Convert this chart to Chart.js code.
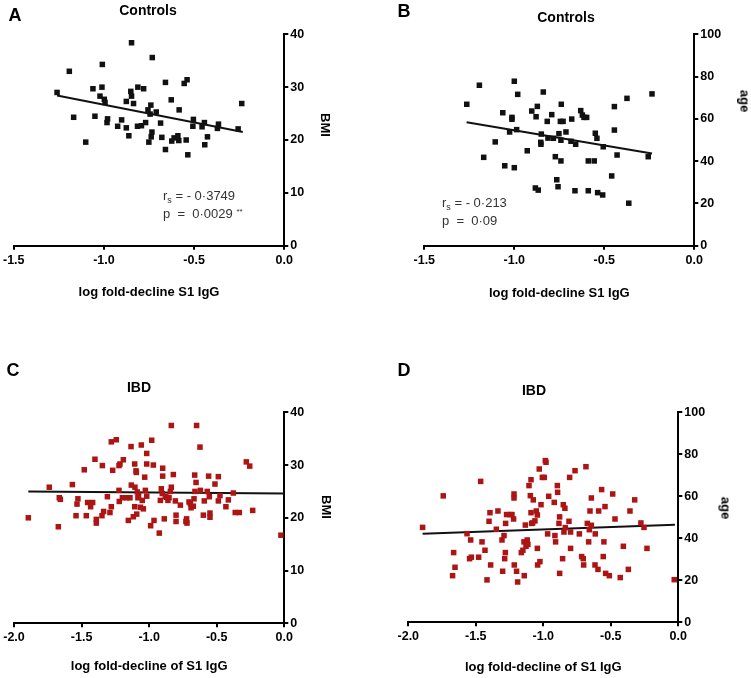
<!DOCTYPE html>
<html>
<head>
<meta charset="utf-8">
<script src="https://cdn.jsdelivr.net/npm/chart.js@4.4.1/dist/chart.umd.min.js"></script>
<style>
  body { margin: 0; background: #fff; }
  #fig { position: relative; width: 751px; height: 678px; background: #fff; overflow: hidden;
         font-family: "Liberation Sans", Arial, sans-serif; color: #000; }
  canvas { position: absolute; }
  .lbl { position: absolute; line-height: 1; white-space: nowrap; transform: translate(-50%, -50%); }
  .letter { font-size: 18px; font-weight: bold; }
  .title { font-size: 14px; font-weight: bold; }
  .ytitle { font-size: 13px; font-weight: bold; transform: translate(-50%, -50%) rotate(90deg); }
  .stat { position: absolute; font-size: 13px; color: #333; line-height: 1; white-space: pre; transform: translateY(-50%); }
  .stat sub { font-size: 9px; vertical-align: -3px; line-height: 0; }
  .stat sup { font-size: 8px; vertical-align: 4px; line-height: 0; }
</style>
</head>
<body>
<div id="fig">
  <canvas id="chartA" width="375" height="339" style="left:0;top:0"></canvas>
  <canvas id="chartB" width="371" height="339" style="left:380px;top:0"></canvas>
  <canvas id="chartC" width="375" height="339" style="left:0;top:339px"></canvas>
  <canvas id="chartD" width="371" height="339" style="left:380px;top:339px"></canvas>

  <div class="lbl letter" style="left:15px;top:15px">A</div>
  <div class="lbl letter" style="left:404px;top:11px">B</div>
  <div class="lbl letter" style="left:13px;top:370px">C</div>
  <div class="lbl letter" style="left:404px;top:370px">D</div>

  <div class="lbl title" style="left:148px;top:10px">Controls</div>
  <div class="lbl title" style="left:566px;top:17px">Controls</div>
  <div class="lbl title" style="left:139px;top:387px">IBD</div>
  <div class="lbl title" style="left:534px;top:390px">IBD</div>

  <div class="lbl ytitle" style="left:325px;top:125px">BMI</div>
  <div class="lbl ytitle" style="left:745px;top:101px">age</div>
  <div class="lbl ytitle" style="left:326px;top:507px">BMI</div>
  <div class="lbl ytitle" style="left:726px;top:508px">age</div>

  <div class="stat" style="left:163px;top:195px">r<sub>s</sub> = - 0·3749</div>
  <div class="stat" style="left:163px;top:213px">p  =  0·0029 <sup>**</sup></div>
  <div class="stat" style="left:442px;top:202px">r<sub>s</sub> = - 0·213</div>
  <div class="stat" style="left:442px;top:220px">p  =  0·09</div>
</div>

<script>
// Controls: log fold-decline S1 IgG vs BMI (panel A)
const ctrlFoldBmi = [-1.26, -1.192, -1.168, -1.101, -1.061, -1.05, -1.009, -1.011, -1.022, -0.998,
  -0.994, -0.98, -0.983, -0.924, -0.902, -0.876, -0.876, -0.862, -0.847, -0.851,
  -0.847, -0.836, -0.812, -0.78, -0.814, -0.792, -0.769, -0.756, -0.751, -0.74,
  -0.744, -0.732, -0.734, -0.738, -0.71, -0.686, -0.679, -0.659, -0.659, -0.627,
  -0.624, -0.611, -0.59, -0.585, -0.583, -0.555, -0.539, -0.544, -0.535, -0.504,
  -0.507, -0.456, -0.443, -0.441, -0.426, -0.365, -0.371, -0.256, -0.236];
const ctrlBmi = [29.0, 33.0, 24.3, 19.6, 29.7, 24.5, 34.3, 30.0, 28.3, 27.7,
  27.1, 24.0, 23.3, 22.6, 23.8, 27.3, 22.3, 20.8, 38.4, 29.2,
  28.3, 26.9, 30.0, 29.7, 22.6, 22.7, 23.3, 25.7, 19.6, 26.6,
  24.9, 35.6, 21.5, 20.6, 25.3, 23.2, 20.5, 30.9, 18.2, 27.6,
  19.8, 20.4, 20.8, 19.9, 25.7, 30.7, 31.4, 20.0, 17.2, 23.9,
  22.6, 22.5, 23.3, 19.1, 20.6, 23.0, 22.2, 22.1, 26.9];
const ctrlBmiFitX = [-1.26, -0.23];
const ctrlBmiFitY = [28.4, 21.5];

// Controls: log fold-decline S1 IgG vs age (panel B)
const ctrlFoldAge = [-1.264, -1.194, -1.170, -1.106, -1.064, -1.053, -1.013, -1.013, -1.000, -1.000,
  -0.981, -1.026, -0.987, -0.928, -0.903, -0.879, -0.872, -0.883, -0.867, -0.839,
  -0.850, -0.853, -0.852, -0.817, -0.813, -0.792, -0.783, -0.772, -0.764, -0.757,
  -0.752, -0.744, -0.739, -0.741, -0.741, -0.729, -0.713, -0.681, -0.685, -0.659,
  -0.663, -0.631, -0.622, -0.613, -0.598, -0.589, -0.589, -0.556, -0.550, -0.541,
  -0.537, -0.509, -0.506, -0.459, -0.444, -0.444, -0.429, -0.374, -0.364, -0.256,
  -0.235];
const ctrlAge = [66.9, 75.9, 41.8, 49.1, 62.9, 37.8, 60.7, 59.8, 77.8, 36.9,
  71.6, 53.8, 54.9, 44.9, 63.7, 61.0, 65.9, 27.3, 26.3, 72.7,
  52.8, 48.9, 48.0, 58.8, 50.9, 62.0, 50.8, 42.1, 31.2, 27.9,
  53.0, 58.8, 66.9, 40.1, 49.9, 58.8, 53.8, 59.9, 49.4, 48.0,
  26.0, 63.9, 61.8, 60.7, 60.7, 40.1, 26.0, 40.1, 53.2, 50.8,
  25.1, 24.0, 46.8, 33.0, 65.8, 54.7, 42.9, 69.7, 20.1, 42.1,
  71.8];
const ctrlAgeFitX = [-1.265, -0.235];
const ctrlAgeFitY = [58.4, 43.6];

// IBD: log fold-decline of S1 IgG vs BMI (panel C)
const ibdFoldBmi = [-1.894, -1.739, -1.672, -1.665, -1.657, -1.568, -1.541, -1.534, -1.527, -1.480,
  -1.465, -1.455, -1.433, -1.418, -1.401, -1.391, -1.391, -1.346, -1.349, -1.337,
  -1.309, -1.290, -1.280, -1.280, -1.270, -1.243, -1.223, -1.216, -1.223, -1.221,
  -1.198, -1.191, -1.166, -1.154, -1.142, -1.134, -1.132, -1.117, -1.107, -1.105,
  -1.097, -1.095, -1.107, -1.092, -1.088, -1.083, -1.078, -1.065, -1.058, -1.051,
  -1.043, -1.033, -1.028, -1.018, -1.018, -1.018, -0.981, -0.969, -0.989, -0.964,
  -0.925, -0.917, -0.910, -0.903, -0.900, -0.900, -0.888, -0.880, -0.871, -0.861,
  -0.853, -0.843, -0.836, -0.836, -0.821, -0.806, -0.801, -0.801, -0.769, -0.728,
  -0.723, -0.720, -0.705, -0.695, -0.690, -0.673, -0.668, -0.663, -0.661, -0.653,
  -0.649, -0.624, -0.621, -0.599, -0.592, -0.570, -0.560, -0.555, -0.550, -0.550,
  -0.513, -0.488, -0.488, -0.476, -0.432, -0.414, -0.377, -0.363, -0.333, -0.281,
  -0.256, -0.234, -0.025];
const ibdBmi = [20.0, 25.8, 18.3, 23.8, 23.5, 26.3, 20.4, 22.6, 23.6, 29.1,
  20.4, 22.9, 22.1, 22.9, 31.1, 19.7, 19.0, 29.9, 20.4, 21.2,
  24.0, 21.0, 22.1, 34.4, 29.0, 34.8, 29.9, 30.2, 25.2, 23.1,
  23.8, 31.0, 23.8, 19.5, 23.8, 33.5, 26.2, 20.2, 30.2, 25.8,
  28.9, 28.6, 22.1, 20.7, 24.9, 23.8, 24.3, 22.0, 33.8, 23.3,
  21.7, 27.7, 25.2, 32.2, 30.2, 24.1, 34.7, 30.0, 18.5, 19.5,
  17.1, 23.3, 25.5, 24.6, 29.4, 27.9, 19.8, 24.0, 23.9, 23.3,
  23.8, 25.0, 25.8, 37.5, 28.2, 23.2, 20.5, 19.3, 22.4, 19.3,
  19.8, 19.0, 23.0, 22.7, 21.9, 22.2, 23.6, 28.1, 25.0, 26.7,
  37.5, 33.4, 25.2, 20.5, 23.2, 25.0, 27.9, 24.0, 20.9, 20.1,
  26.4, 27.8, 23.2, 24.2, 22.1, 23.4, 24.7, 21.0, 21.0, 30.6,
  29.8, 21.4, 16.7];
const ibdBmiFitX = [-1.894, 0];
const ibdBmiFitY = [25.0, 24.6];

// IBD: log fold-decline of S1 IgG vs age (panel D)
const ibdFoldAge = [-1.894, -1.741, -1.664, -1.654, -1.672, -1.565, -1.538, -1.546, -1.533, -1.479,
  -1.464, -1.454, -1.432, -1.417, -1.402, -1.395, -1.390, -1.348, -1.336, -1.306,
  -1.301, -1.291, -1.286, -1.281, -1.279, -1.272, -1.247, -1.232, -1.220, -1.217,
  -1.217, -1.215, -1.198, -1.190, -1.163, -1.151, -1.141, -1.143, -1.133, -1.128,
  -1.119, -1.114, -1.106, -1.096, -1.091, -1.091, -1.086, -1.079, -1.074, -1.062,
  -1.052, -1.044, -1.044, -1.042, -1.030, -1.025, -1.017, -1.007, -0.993, -0.985,
  -0.980, -0.968, -0.960, -0.919, -0.914, -0.909, -0.896, -0.894, -0.884, -0.879,
  -0.879, -0.857, -0.852, -0.840, -0.847, -0.837, -0.805, -0.810, -0.798, -0.798,
  -0.765, -0.733, -0.716, -0.704, -0.701, -0.684, -0.674, -0.664, -0.659, -0.654,
  -0.644, -0.644, -0.617, -0.615, -0.595, -0.590, -0.568, -0.556, -0.551, -0.543,
  -0.538, -0.511, -0.486, -0.469, -0.430, -0.407, -0.370, -0.358, -0.323, -0.277,
  -0.254, -0.232, -0.030];
const ibdAge = [45.2, 60.2, 33.2, 26.2, 22.2, 42.2, 39.2, 30.3, 31.0, 31.0,
  67.1, 38.3, 34.3, 20.2, 48.1, 52.2, 27.3, 44.3, 53.0, 39.2,
  24.3, 41.3, 30.3, 33.2, 47.1, 51.3, 51.3, 51.3, 49.2, 61.1,
  59.2, 27.3, 24.3, 19.2, 33.2, 34.3, 22.2, 38.3, 46.3, 36.2,
  39.2, 37.1, 65.1, 60.3, 67.9, 52.2, 47.1, 47.3, 58.3, 48.3,
  53.0, 51.1, 35.2, 27.3, 73.0, 28.9, 56.0, 69.0, 69.0, 77.0,
  76.2, 42.1, 60.0, 57.1, 41.3, 38.3, 65.1, 61.9, 47.1, 50.2,
  23.3, 30.3, 56.0, 54.3, 43.0, 45.1, 69.0, 48.1, 35.2, 43.0,
  72.2, 42.1, 31.3, 30.3, 27.3, 74.1, 47.1, 38.3, 44.1, 53.0,
  59.2, 46.2, 27.3, 42.1, 25.2, 53.0, 63.2, 31.3, 38.3, 55.1,
  23.3, 22.2, 61.1, 49.2, 21.3, 36.2, 25.2, 53.0, 58.3, 47.3,
  45.2, 35.2, 20.3];
const ibdAgeFitX = [-1.894, -0.025];
const ibdAgeFitY = [42.2, 46.5];

// tick labels
const ctrlXTicks = [-1.5, -1.0, -0.5, 0.0];
const ibdXTicks = [-2.0, -1.5, -1.0, -0.5, 0.0];
const bmiTicks = [0, 10, 20, 30, 40];
const ageTicks = [0, 20, 40, 60, 80, 100];

const FONT = '"Liberation Sans", Arial, sans-serif';

function pairs(xs, ys) {
  return xs.map((x, i) => ({ x: x, y: ys[i] }));
}

function axisStyle() {
  return {
    border: { display: true, color: '#000', width: 2 },
    grid: { drawOnChartArea: false, drawTicks: true, tickLength: 4, color: '#000', lineWidth: 2 },
  };
}

// box = plot area and x-title centre in canvas pixels
function makePanel(id, xs, ys, fitX, fitY, color, xTicks, yTicks, xTitle, box) {
  const canvas = document.getElementById(id);
  const W = canvas.width, H = canvas.height;
  const yAxisW = 40;
  const titleLH = 13 * 1.2;
  const xAxisH = box.titleY + titleLH / 2 - box.b;

  return new Chart(canvas.getContext('2d'), {
    type: 'scatter',
    data: {
      datasets: [
        {
          data: pairs(xs, ys),
          pointStyle: 'rect',
          pointRadius: 3.9,
          pointHoverRadius: 3.9,
          backgroundColor: color,
          borderWidth: 0,
          clip: false
        },
        {
          type: 'line',
          data: pairs(fitX, fitY),
          borderColor: '#111',
          borderWidth: 2,
          pointRadius: 0,
          fill: false,
          clip: false
        }
      ]
    },
    options: {
      responsive: false,
      animation: false,
      events: [],
      layout: {
        padding: {
          left: box.l,
          top: box.t,
          right: W - box.r - yAxisW,
          bottom: H - box.b - xAxisH
        }
      },
      plugins: { legend: { display: false }, tooltip: { enabled: false } },
      scales: {
        x: Object.assign(axisStyle(), {
          type: 'linear',
          min: xTicks[0],
          max: xTicks[xTicks.length - 1],
          afterBuildTicks: s => { s.ticks = xTicks.map(v => ({ value: v })); },
          afterFit: s => { s.height = xAxisH; },
          ticks: {
            color: '#000', padding: 3, maxRotation: 0,
            font: { family: FONT, size: 12.5, weight: 'bold' },
            callback: v => Number(v).toFixed(1)
          },
          title: {
            display: true, text: xTitle, color: '#000', padding: 0,
            font: { family: FONT, size: 13, weight: 'bold' }
          }
        }),
        y: Object.assign(axisStyle(), {
          type: 'linear',
          position: 'right',
          min: yTicks[0],
          max: yTicks[yTicks.length - 1],
          afterBuildTicks: s => { s.ticks = yTicks.map(v => ({ value: v })); },
          afterFit: s => { s.width = yAxisW; },
          ticks: {
            color: '#000', padding: 2,
            font: { family: FONT, size: 12.5, weight: 'bold' }
          }
        })
      }
    }
  });
}

const BLACK = '#111';
const RED = '#ad1414';

makePanel('chartA', ctrlFoldBmi, ctrlBmi, ctrlBmiFitX, ctrlBmiFitY, BLACK, ctrlXTicks, bmiTicks,
  'log fold-decline S1 IgG', { l: 13.3, r: 284.3, t: 34.3, b: 245.7, titleY: 292.5 });
makePanel('chartB', ctrlFoldAge, ctrlAge, ctrlAgeFitX, ctrlAgeFitY, BLACK, ctrlXTicks, ageTicks,
  'log fold-decline S1 IgG', { l: 44.3, r: 314.3, t: 34.3, b: 245.7, titleY: 293 });
makePanel('chartC', ibdFoldBmi, ibdBmi, ibdBmiFitX, ibdBmiFitY, RED, ibdXTicks, bmiTicks,
  'log fold-decline of S1 IgG', { l: 14, r: 284.3, t: 73.3, b: 284.3, titleY: 327 });
makePanel('chartD', ibdFoldAge, ibdAge, ibdAgeFitX, ibdAgeFitY, RED, ibdXTicks, ageTicks,
  'log fold-decline of S1 IgG', { l: 28.3, r: 298.3, t: 73.3, b: 283.3, titleY: 328 });
</script>
</body>
</html>
